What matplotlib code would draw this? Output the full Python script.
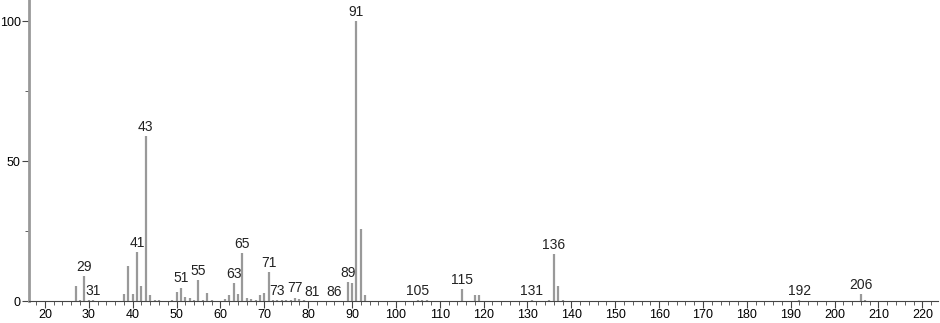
import numpy as np
import matplotlib.pyplot as plt
from matplotlib.ticker import MultipleLocator

plt.rcParams['font.family'] = ['Liberation Sans', 'DejaVu Sans']

# spectrum peaks (m/z, relative intensity)
mz = [27, 28, 29, 30, 31, 38, 39, 40, 41, 42, 43, 44, 45, 46, 49, 50, 51, 52, 53, 54,
      55, 56, 57, 58, 61, 62, 63, 64, 65, 66, 67, 68, 69, 70, 71, 72, 73, 74, 75, 76,
      77, 78, 79, 89, 90, 91, 92, 93, 105, 106, 107, 115, 118, 119, 131, 135, 136, 137,
      138, 192, 206, 207]
intensity = [5.5, 0.5, 8.9, 0.3, 0.4, 2.4, 12.6, 2.4, 17.5, 5.4, 58.9, 2.0, 0.5, 0.3, 0.3, 3.3,
             4.8, 1.3, 1.1, 0.5, 7.5, 0.4, 3.0, 0.3, 0.8, 2.2, 6.5, 2.6, 17.0, 1.0, 0.6, 0.3,
             2.1, 2.9, 10.4, 0.5, 0.3, 0.2, 0.2, 0.5, 1.2, 0.7, 0.3, 6.8, 6.5, 100, 25.7, 2.1,
             0.4, 0.3, 0.3, 4.2, 2.1, 2.2, 0.3, 0.3, 16.7, 5.5, 0.4, 0.2, 2.5, 0.4]

# labelled peaks
labels = [29, 31, 41, 43, 51, 55, 63, 65, 71, 73, 77, 81, 86, 89, 91, 105, 115, 131, 136, 192, 206]

fig = plt.figure(figsize=(9.4, 3.23), dpi=100)
ax = fig.add_axes([0.031, 0.068, 0.967, 0.932])

ax.vlines(mz, 0, intensity, color='#999999', lw=1.6)

inten = dict(zip(mz, intensity))
for m in labels:
    h = inten.get(m, 0)
    ax.text(m, h + 0.8, str(m), ha='center', va='bottom', fontsize=10, color='#222222')

ax.set_xlim(16.4, 223.6)
ax.set_ylim(0, 107.5)

ax.xaxis.set_major_locator(MultipleLocator(10))
ax.xaxis.set_minor_locator(MultipleLocator(2))
ax.yaxis.set_major_locator(MultipleLocator(50))
ax.yaxis.set_minor_locator(MultipleLocator(25))

ax.spines['top'].set_visible(False)
ax.spines['right'].set_visible(False)
ax.spines['left'].set_color('#999999')
ax.spines['left'].set_linewidth(2)
ax.spines['bottom'].set_color('#444444')
ax.spines['bottom'].set_linewidth(0.8)

ax.tick_params(axis='x', which='major', length=5, width=0.8, color='#444444', labelsize=9, pad=1)
ax.tick_params(axis='x', which='minor', length=3, width=0.6, color='#444444')
ax.tick_params(axis='y', which='major', length=5, width=0.8, color='#444444', labelsize=9, pad=1)
ax.tick_params(axis='y', which='minor', length=3, width=0.6, color='#444444')

plt.savefig('out.png', dpi=100)
